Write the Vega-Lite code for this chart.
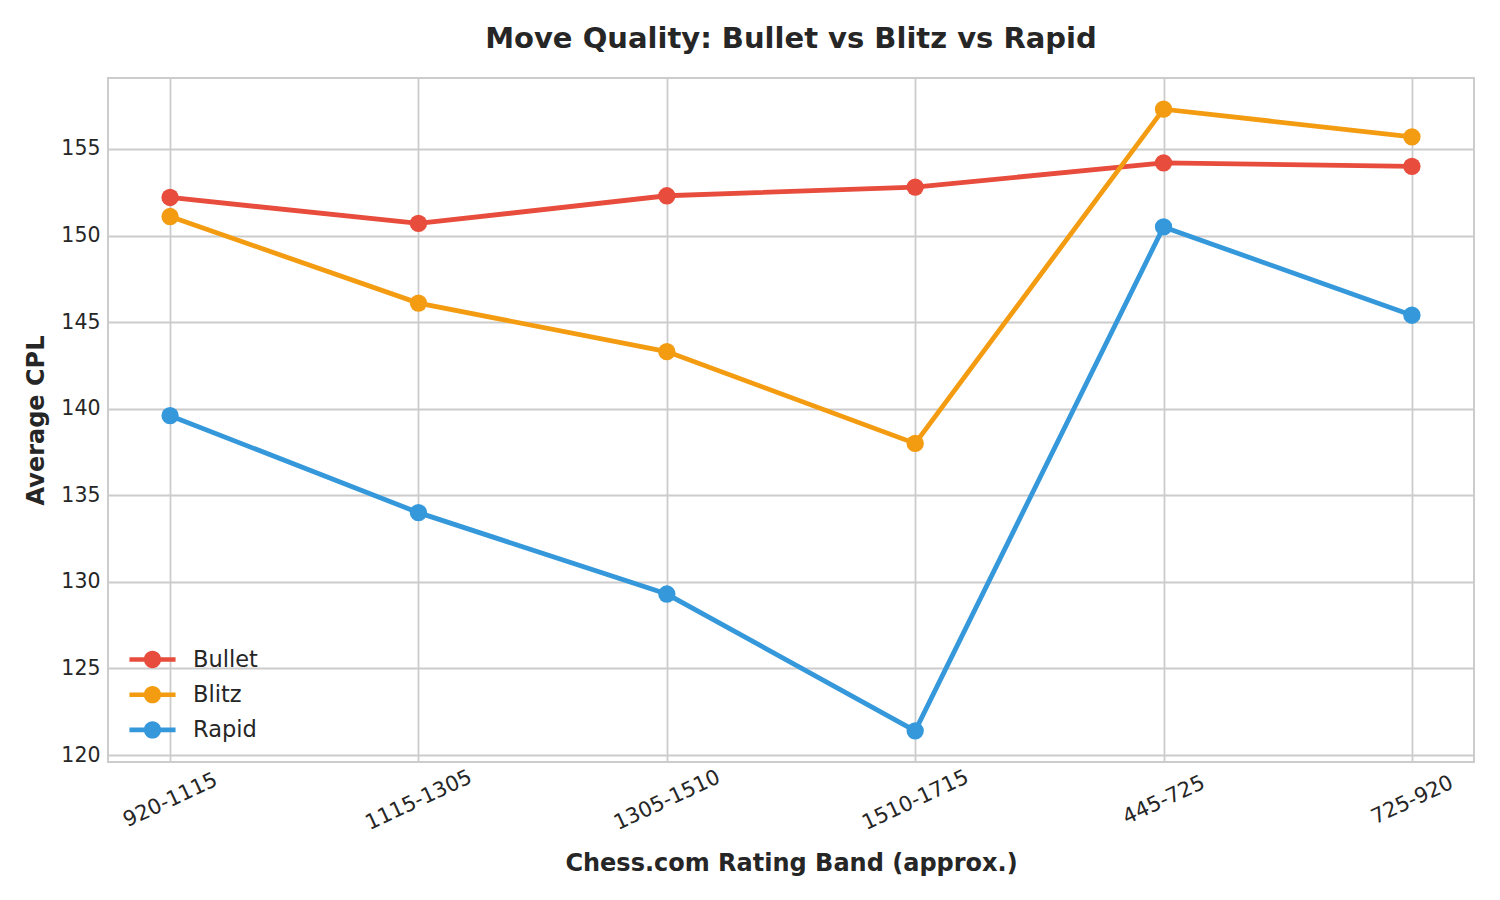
{
  "$schema": "https://vega.github.io/schema/vega-lite/v6.json",
  "autosize": "none",
  "width": 1366,
  "height": 684,
  "padding": {"left": 108, "top": 78, "right": 26, "bottom": 138},
  "background": "white",
  "title": {
    "text": "Move Quality: Bullet vs Blitz vs Rapid",
    "font": "DejaVu Sans",
    "fontSize": 29,
    "fontWeight": "bold",
    "color": "#262626",
    "anchor": "middle",
    "offset": 24
  },
  "data": {
    "values": [
      {"band": "920-1115", "mode": "Bullet", "cpl": 152.2},
      {"band": "1115-1305", "mode": "Bullet", "cpl": 150.7},
      {"band": "1305-1510", "mode": "Bullet", "cpl": 152.3},
      {"band": "1510-1715", "mode": "Bullet", "cpl": 152.8},
      {"band": "445-725", "mode": "Bullet", "cpl": 154.2},
      {"band": "725-920", "mode": "Bullet", "cpl": 154.0},
      {"band": "920-1115", "mode": "Blitz", "cpl": 151.1},
      {"band": "1115-1305", "mode": "Blitz", "cpl": 146.1},
      {"band": "1305-1510", "mode": "Blitz", "cpl": 143.3},
      {"band": "1510-1715", "mode": "Blitz", "cpl": 138.0},
      {"band": "445-725", "mode": "Blitz", "cpl": 157.3},
      {"band": "725-920", "mode": "Blitz", "cpl": 155.7},
      {"band": "920-1115", "mode": "Rapid", "cpl": 139.6},
      {"band": "1115-1305", "mode": "Rapid", "cpl": 134.0},
      {"band": "1305-1510", "mode": "Rapid", "cpl": 129.3},
      {"band": "1510-1715", "mode": "Rapid", "cpl": 121.4},
      {"band": "445-725", "mode": "Rapid", "cpl": 150.5},
      {"band": "725-920", "mode": "Rapid", "cpl": 145.4}
    ]
  },
  "encoding": {
    "x": {
      "field": "band",
      "type": "ordinal",
      "sort": null,
      "scale": {"type": "point", "padding": 0.25},
      "axis": {
        "title": "Chess.com Rating Band (approx.)",
        "labelAngle": -25,
        "labelAlign": "center",
        "labelBaseline": "middle",
        "labelPadding": 38,
        "labelFontSize": 21,
        "titlePadding": 18
      }
    },
    "y": {
      "field": "cpl",
      "type": "quantitative",
      "scale": {"domain": [119.6, 159.1], "nice": false, "zero": false},
      "axis": {
        "title": "Average CPL",
        "values": [120, 125, 130, 135, 140, 145, 150, 155],
        "titlePadding": 12
      }
    },
    "color": {
      "field": "mode",
      "type": "nominal",
      "scale": {"domain": ["Bullet", "Blitz", "Rapid"], "range": ["#e74c3c", "#f39c12", "#3498db"]},
      "legend": {
        "title": null,
        "orient": "none",
        "legendX": 30,
        "legendY": 567,
        "padding": 0,
        "symbolType": "M -1.6 -0.16 L -0.5 -0.16 L -0.5 0.16 L -1.6 0.16 Z M 0.5 -0.16 L 1.6 -0.16 L 1.6 0.16 L 0.5 0.16 Z M -0.6 0 A 0.6 0.6 0 1 1 0.6 0 A 0.6 0.6 0 1 1 -0.6 0 Z",
        "symbolSize": 830,
        "symbolStrokeWidth": 0,
        "symbolOpacity": 1,
        "labelFontSize": 22.5,
        "labelFont": "DejaVu Sans",
        "labelColor": "#262626",
        "rowPadding": 9.2,
        "labelOffset": 26
      }
    }
  },
  "layer": [
    {"mark": {"type": "line", "strokeWidth": 4.8}},
    {"mark": {"type": "circle", "size": 300, "opacity": 1}}
  ],
  "config": {
    "font": "DejaVu Sans",
    "view": {"stroke": "#cccccc", "strokeWidth": 2},
    "axis": {
      "grid": true,
      "gridColor": "#cccccc",
      "gridWidth": 1.8,
      "domain": false,
      "ticks": false,
      "labelFont": "DejaVu Sans",
      "labelFontSize": 20.5,
      "labelColor": "#262626",
      "titleFont": "DejaVu Sans",
      "titleFontSize": 24,
      "titleFontWeight": "bold",
      "titleColor": "#262626",
      "labelPadding": 8
    }
  }
}
